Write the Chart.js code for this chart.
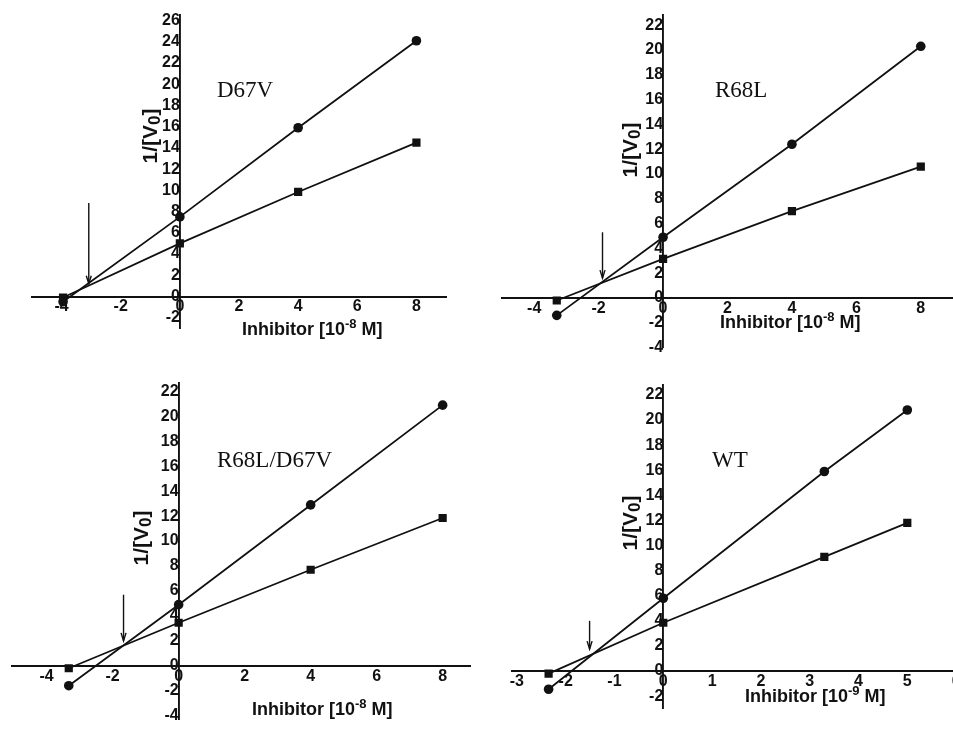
<!doctype html>
<html>

<head>
    <title>Dixon plots</title>
    <script src="https://cdn.jsdelivr.net/npm/chart.js@4.4.1/dist/chart.umd.min.js"></script>
    <style>
    html, body {
        margin: 0;
        padding: 0;
        background: #fff;
        width: 953px;
        height: 729px;
        overflow: hidden;
    }
    canvas {
        position: absolute;
        left: 0;
        top: 0;
    }
    </style>
</head>

<body>
    <canvas id="p1" width="970" height="729"></canvas>
    <canvas id="p2" width="970" height="729"></canvas>
    <canvas id="p3" width="970" height="729"></canvas>
    <canvas id="p4" width="970" height="729"></canvas>
    <script>
        // inhibitor concentrations and 1/V0 values
        var d67vX = [-3.95, 0, 4, 8];
        var d67vCircle = [-0.5, 7.5, 15.9, 24.1];
        var d67vSquare = [-0.1, 5.0, 9.85, 14.5];

        var r68lX = [-3.3, 0, 4, 8];
        var r68lCircle = [-1.4, 4.9, 12.4, 20.3];
        var r68lSquare = [-0.2, 3.15, 7.0, 10.6];

        var doubleX = [-3.33, 0, 4, 8];
        var doubleCircle = [-1.6, 4.9, 12.9, 20.9];
        var doubleSquare = [-0.2, 3.45, 7.7, 11.85];

        var wtX = [-2.35, 0, 3.3, 5];
        var wtCircle = [-1.45, 5.8, 15.9, 20.8];
        var wtSquare = [-0.2, 3.85, 9.1, 11.8];

        // tick labels
        var xTicks8 = [-4, -2, 0, 2, 4, 6, 8];
        var xTicksWT = [-3, -2, -1, 0, 1, 2, 3, 4, 5, 6];
        var yTicksD67V = [-2, 0, 2, 4, 6, 8, 10, 12, 14, 16, 18, 20, 22, 24, 26];
        var yTicks22 = [-4, -2, 0, 2, 4, 6, 8, 10, 12, 14, 16, 18, 20, 22];
        var yTicksWT = [-2, 0, 2, 4, 6, 8, 10, 12, 14, 16, 18, 20, 22];

        // arrows marking the crossing point: [x, top y, tip y]
        var d67vArrow = [-3.08, 8.8, 1.2];
        var r68lArrow = [-1.88, 5.3, 1.6];
        var doubleArrow = [-1.67, 5.7, 2.0];
        var wtArrow = [-1.51, 4.0, 1.75];

        var ink = '#111';
        var W = 970, H = 729;

        var extras = {
            id: 'extras',
            afterDraw: function(chart, args, o) {
                var ctx = chart.ctx;
                var xs = chart.scales.x, ys = chart.scales.y;
                ctx.save();
                ctx.fillStyle = ink;
                ctx.strokeStyle = ink;

                // panel name
                ctx.font = '23px "Liberation Serif", "Times New Roman", serif';
                ctx.textAlign = 'left';
                ctx.textBaseline = 'middle';
                ctx.fillText(o.name, o.namePos[0], o.namePos[1]);

                // arrow
                var ax = xs.getPixelForValue(o.arrow[0]);
                var ay1 = ys.getPixelForValue(o.arrow[1]);
                var ay2 = ys.getPixelForValue(o.arrow[2]);
                ctx.lineWidth = 1.4;
                ctx.beginPath();
                ctx.moveTo(ax, ay1);
                ctx.lineTo(ax, ay2);
                ctx.stroke();
                ctx.beginPath();
                ctx.moveTo(ax - 2.5, ay2 - 8);
                ctx.lineTo(ax, ay2);
                ctx.lineTo(ax + 2.5, ay2 - 8);
                ctx.stroke();

                ctx.textBaseline = 'alphabetic';
                var big = 'bold 18px "Liberation Sans", Arial, sans-serif';
                var small = 'bold 13px "Liberation Sans", Arial, sans-serif';

                // x title with superscript
                var parts = [
                    {t: 'Inhibitor [10', f: big, dy: 0},
                    {t: o.exp, f: small, dy: -7},
                    {t: ' M]', f: big, dy: 0}
                ];
                var x = o.xTitle[0];
                parts.forEach(function(p) {
                    ctx.font = p.f;
                    ctx.fillText(p.t, x, o.xTitle[1] + p.dy);
                    x += ctx.measureText(p.t).width;
                });

                // y title, rotated, with subscript
                var yBig = 'bold 21px "Liberation Sans", Arial, sans-serif';
                var ySmall = 'bold 17px "Liberation Sans", Arial, sans-serif';
                var yparts = [
                    {t: '1/[V', f: yBig, dy: 0},
                    {t: '0', f: ySmall, dy: 3},
                    {t: ']', f: yBig, dy: 0}
                ];
                var total = 0;
                yparts.forEach(function(p) {
                    ctx.font = p.f;
                    total += ctx.measureText(p.t).width;
                });
                ctx.translate(o.yTitle[0], o.yTitle[1]);
                ctx.rotate(-Math.PI / 2);
                var px = -total / 2;
                yparts.forEach(function(p) {
                    ctx.font = p.f;
                    ctx.fillText(p.t, px, p.dy);
                    px += ctx.measureText(p.t).width;
                });
                ctx.restore();
            }
        };

        var tickFont = {family: '"Liberation Sans", Arial, sans-serif', size: 16, weight: 'bold'};

        function toPoints(xs, ys) {
            return xs.map(function(v, i) { return {x: v, y: ys[i]}; });
        }

        function makeChart(id, p) {
            var cfg = {
                type: 'scatter',
                data: {
                    datasets: [{
                        data: toPoints(p.xs, p.circle),
                        showLine: true,
                        borderColor: ink,
                        backgroundColor: ink,
                        borderWidth: 1.8,
                        pointStyle: 'circle',
                        pointRadius: 4.8,
                        pointBorderWidth: 0
                    }, {
                        data: toPoints(p.xs, p.square),
                        showLine: true,
                        borderColor: ink,
                        backgroundColor: ink,
                        borderWidth: 1.8,
                        pointStyle: 'rect',
                        pointRadius: 5.8,
                        pointBorderWidth: 0
                    }]
                },
                options: {
                    responsive: false,
                    animation: false,
                    layout: {
                        padding: {left: p.box[0], right: W - p.box[1], top: p.box[2], bottom: H - p.box[3]}
                    },
                    plugins: {
                        legend: {display: false},
                        tooltip: {enabled: false},
                        extras: p.extras
                    },
                    scales: {
                        x: {
                            type: 'linear',
                            position: {y: 0},
                            min: p.xRange[0],
                            max: p.xRange[1],
                            grid: {display: false, drawTicks: false},
                            border: {display: true, color: ink, width: 1.9},
                            afterBuildTicks: function(s) {
                                s.ticks = p.xTicks.map(function(v) { return {value: v}; });
                            },
                            ticks: {autoSkip: false, maxRotation: 0, padding: 1, color: ink, font: tickFont}
                        },
                        y: {
                            type: 'linear',
                            position: {x: 0},
                            min: p.yRange[0],
                            max: p.yRange[1],
                            grid: {display: false, drawTicks: false},
                            border: {display: true, color: ink, width: 1.9},
                            afterBuildTicks: function(s) {
                                s.ticks = p.yTicks.map(function(v) { return {value: v}; });
                            },
                            ticks: {autoSkip: false, padding: 0, color: ink, font: tickFont}
                        }
                    }
                },
                plugins: [extras]
            };
            return new Chart(document.getElementById(id), cfg);
        }

        window.onload = function() {
            makeChart('p1', {
                xs: d67vX, circle: d67vCircle, square: d67vSquare,
                xTicks: xTicks8, yTicks: yTicksD67V,
                xRange: [-5, 9], yRange: [-3, 26.5],
                box: [32, 446, 15.3, 328.3],
                extras: {name: 'D67V', namePos: [217, 91], arrow: d67vArrow, exp: '-8',
                         xTitle: [242, 335], yTitle: [157, 136]}
            });
            makeChart('p2', {
                xs: r68lX, circle: r68lCircle, square: r68lSquare,
                xTicks: xTicks8, yTicks: yTicks22,
                xRange: [-5, 9], yRange: [-4, 22.8],
                box: [502, 953, 15.3, 347.6],
                extras: {name: 'R68L', namePos: [715, 91], arrow: r68lArrow, exp: '-8',
                         xTitle: [720, 328], yTitle: [637, 150]}
            });
            makeChart('p3', {
                xs: doubleX, circle: doubleCircle, square: doubleSquare,
                xTicks: xTicks8, yTicks: yTicks22,
                xRange: [-5.05, 8.85], yRange: [-4.3, 22.7],
                box: [12, 470.7, 382.7, 728.3],
                extras: {name: 'R68L/D67V', namePos: [217, 461], arrow: doubleArrow, exp: '-8',
                         xTitle: [252, 715], yTitle: [148, 538]}
            });
            makeChart('p4', {
                xs: wtX, circle: wtCircle, square: wtSquare,
                xTicks: xTicksWT, yTicks: yTicksWT,
                xRange: [-3.1, 6], yRange: [-3, 22.8],
                box: [512, 956.1, 384.9, 708.7],
                extras: {name: 'WT', namePos: [712, 461], arrow: wtArrow, exp: '-9',
                         xTitle: [745, 702], yTitle: [637, 523]}
            });
        };
    </script>
</body>

</html>
